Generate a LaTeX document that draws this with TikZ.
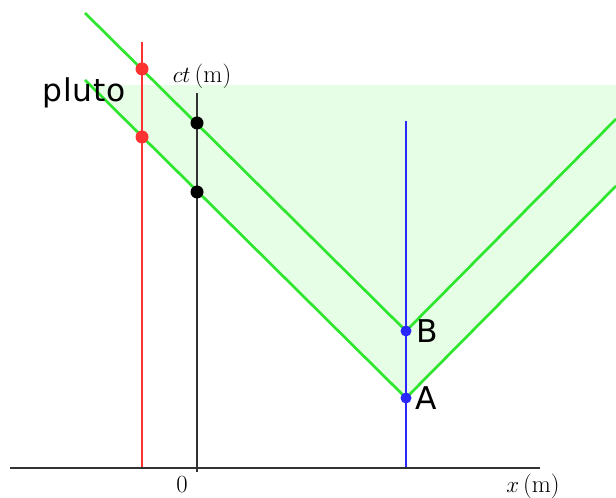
\documentclass[tikz,border=0pt]{standalone}
\usepackage{fontspec}
\newfontfamily\labfont{DejaVu Sans}
\newfontfamily\plutofont[LetterSpace=3]{DejaVu Sans}
\begin{document}
\begin{tikzpicture}[x=0.75pt,y=-0.75pt,
  vline/.style={line width=2.2pt},
  gstroke/.style={draw=gline, line width=2.0pt, line join=miter},
  dot/.style={circle, inner sep=0pt, minimum size=#1*0.75pt},
  dot/.default=13,
  sanslab/.style={font=\labfont\fontsize{23.5}{26}\selectfont, inner sep=0pt},
  seriflab/.style={font=\fontsize{18.5}{20}\selectfont, inner sep=0pt}]
\definecolor{lgreen}{RGB}{230,253,230}
\definecolor{gline}{RGB}{45,230,45}
\definecolor{rline}{RGB}{255,50,50}
\definecolor{bline}{RGB}{40,40,255}
\definecolor{axgray}{RGB}{50,50,50}
\useasboundingbox (0,0) rectangle (616,498);
% coordinates
\coordinate (A) at (406,398);
\coordinate (B) at (406,331);
\coordinate (uL) at (85,13);
\coordinate (uR) at (616,119);
\coordinate (lL) at (85,80);
\coordinate (lR) at (616,186);
\coordinate (fL) at (90,85);
\coordinate (fR) at (616,85);
% fill
\fill[lgreen] (fL) -- (fR) -- (lR) -- (A) -- cycle;
% green light lines
\draw[gstroke] (uL) -- (B) -- (uR);
\draw[gstroke] (lL) -- (A) -- (lR);
% world lines
\coordinate (rT) at (142,42);
\coordinate (rB) at (142,468);
\coordinate (kT) at (197,93);
\coordinate (kB) at (197,472);
\coordinate (bT) at (406,121);
\coordinate (bB) at (406,468);
\coordinate (xL) at (10,468);
\coordinate (xR) at (540,468);
\draw[rline, vline] (rT) -- (rB);
\draw[bline, vline] (bT) -- (bB);
\draw[axgray, vline] (xL) -- (xR);
\draw[axgray, vline] (kT) -- (kB);
% dots
\node[dot, fill=rline] (r1) at (142,69) {};
\node[dot, fill=rline] (r2) at (142,137) {};
\node[dot, fill=black] (k1) at (197,123) {};
\node[dot, fill=black] (k2) at (197,192) {};
\node[dot=11, fill=bline] (dB) at (B) {};
\node[dot=11, fill=bline] (dA) at (A) {};
% labels
\node[font=\plutofont\fontsize{23.5}{26}\selectfont, inner sep=0pt, anchor=base west] (pluto) at (42,102) {pluto};
\node[sanslab, anchor=base west] (lA) at (415,409) {A};
\node[sanslab, anchor=base west] (lB) at (416,342) {B};
\node[seriflab, anchor=base] (ct) at (202,83) {$ct$\,(m)};
\node[seriflab, anchor=base] (xm) at (533,492) {$x$\,(m)};
\node[seriflab, anchor=base] (zero) at (182,492) {0};
\end{tikzpicture}
\end{document}
